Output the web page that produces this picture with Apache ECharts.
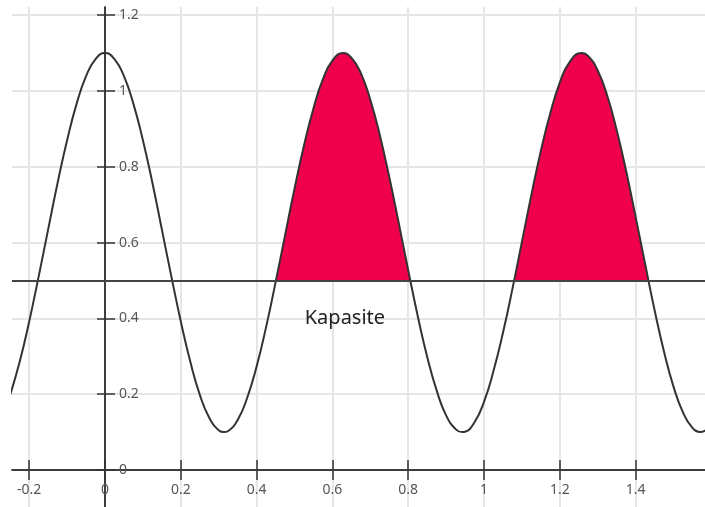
<!DOCTYPE html>
<html>
<head>
<meta charset="utf-8">
<script src="https://cdn.jsdelivr.net/npm/echarts@6/dist/echarts.min.js"></script>
<style>
  html, body { margin: 0; padding: 0; background: #fff; }
  #main { width: 705px; height: 507px; }
</style>
</head>
<body>
<div id="main"></div>
<script>
// curve (x step 0.025, plus the peaks and troughs)
let curveX = [-0.25, -0.225, -0.2, -0.175, -0.15, -0.125, -0.1, -0.075, -0.05, -0.025,
  0, 0.025, 0.05, 0.075, 0.1, 0.125, 0.15, 0.175, 0.2, 0.225,
  0.25, 0.275, 0.3, 0.314, 0.325, 0.35, 0.375, 0.4, 0.425, 0.45, 0.475,
  0.5, 0.525, 0.55, 0.575, 0.6, 0.628, 0.65, 0.675, 0.7, 0.725,
  0.75, 0.775, 0.8, 0.825, 0.85, 0.875, 0.9, 0.925, 0.942, 0.95, 0.975,
  1, 1.025, 1.05, 1.075, 1.1, 1.125, 1.15, 1.175, 1.2, 1.225,
  1.257, 1.275, 1.3, 1.325, 1.35, 1.375, 1.4, 1.425, 1.45, 1.475,
  1.5, 1.525, 1.55, 1.571, 1.6];
let curveY = [0.199, 0.286, 0.392, 0.511, 0.635, 0.758, 0.870, 0.966, 1.039, 1.084,
  1.100, 1.084, 1.039, 0.966, 0.870, 0.758, 0.635, 0.511, 0.392, 0.286,
  0.199, 0.138, 0.105, 0.100, 0.103, 0.132, 0.190, 0.273, 0.377, 0.495, 0.619,
  0.742, 0.856, 0.954, 1.031, 1.080, 1.100, 1.088, 1.047, 0.977, 0.884,
  0.773, 0.652, 0.527, 0.407, 0.299, 0.210, 0.144, 0.108, 0.100, 0.101, 0.126,
  0.180, 0.261, 0.362, 0.478, 0.602, 0.726, 0.842, 0.942, 1.022, 1.075,
  1.100, 1.092, 1.054, 0.988, 0.897, 0.789, 0.668, 0.544, 0.422, 0.312,
  0.220, 0.152, 0.111, 0.100, 0.121];

let capacity = 0.5;
// where the curve crosses the capacity line around the two shaded humps
let humpA = [0.451, 0.805];
let humpB = [1.079, 1.434];

let xRange = [-0.2454, 1.5831];
let yRange = [-0.0976, 1.2216];
let xLabels = [-0.2, 0, 0.2, 0.4, 0.6, 0.8, 1, 1.2, 1.4];
let yLabels = [0, 0.2, 0.4, 0.6, 0.8, 1, 1.2];

let curveData = curveX.map((x, i) => [x, curveY[i]]);

function humpData(range) {
  let pts = curveData.filter(p => p[0] > range[0] && p[0] < range[1]);
  return [[range[0], capacity]].concat(pts, [[range[1], capacity]]);
}

var chart = echarts.init(document.getElementById('main'), null, { renderer: 'canvas' });

let axisColor = '#333';
let gridColor = '#e6e6e6';
let W = 705, H = 507;
let gridBox = { left: 12, right: 0, top: 7, bottom: 0 };

// pixel where the value 0 of the other axis sits, so the axes cross at (0, 0)
let zeroX = gridBox.left + (0 - xRange[0]) / (xRange[1] - xRange[0]) * (W - gridBox.left - gridBox.right);
let zeroY = gridBox.top + (yRange[1] - 0) / (yRange[1] - yRange[0]) * (H - gridBox.top - gridBox.bottom);

function axisPair(dim, range, values) {
  let isX = dim == 'x';
  let main = {
    type: 'value', min: range[0], max: range[1],
    position: isX ? 'bottom' : 'left',
    offset: isX ? -(H - gridBox.bottom - zeroY) : -(zeroX - gridBox.left),
    axisLine: { onZero: false, lineStyle: { color: axisColor, width: 1.5 } },
    axisTick: { show: true, customValues: values, length: isX ? 10 : 8, lineStyle: { color: axisColor, width: 1.5 } },
    axisLabel: {
      show: true, customValues: values, inside: !isX, margin: isX ? 13 : 14,
      color: '#555', fontSize: 14, fontFamily: 'Noto Sans'
    },
    splitLine: { show: true, lineStyle: { color: gridColor, width: 2 } }
  };
  // second copy only gives the ticks on the other side of the axis line
  let other = {
    type: 'value', min: range[0], max: range[1],
    position: isX ? 'top' : 'right',
    offset: isX ? -(zeroY - gridBox.top) : -(W - gridBox.right - zeroX),
    axisLine: { onZero: false, lineStyle: { color: axisColor, width: 1.5 } },
    axisTick: { show: true, customValues: values, length: 10, lineStyle: { color: axisColor, width: 1.5 } },
    axisLabel: { show: false },
    splitLine: { show: false }
  };
  return [main, other];
}

let fillSeries = [humpA, humpB].map(r => ({
  type: 'line',
  data: humpData(r),
  smooth: 0.5,
  symbol: 'none',
  lineStyle: { width: 0 },
  areaStyle: { color: '#f0004c', opacity: 1, origin: capacity },
  z: 2,
  silent: true
}));

var option = {
  animation: false,
  backgroundColor: '#ffffff',
  grid: Object.assign({ containLabel: false }, gridBox),
  xAxis: axisPair('x', xRange, xLabels),
  yAxis: axisPair('y', yRange, yLabels),
  series: fillSeries.concat([{
    type: 'line',
    data: curveData,
    smooth: 0.5,
    symbol: 'none',
    lineStyle: { color: '#333', width: 2 },
    z: 3,
    markLine: {
      silent: true,
      symbol: 'none',
      label: { show: false },
      lineStyle: { color: '#444', width: 2, type: 'solid' },
      data: [{ yAxis: capacity }]
    },
    markPoint: {
      silent: true,
      symbol: 'rect',
      symbolSize: 1,
      itemStyle: { color: 'rgba(0,0,0,0)' },
      label: { show: true, position: 'inside', formatter: 'Kapasite', color: '#222', fontSize: 20, fontFamily: 'Noto Sans' },
      data: [{ coord: [0.633, 0.401] }]
    }
  }])
};

chart.setOption(option);
</script>
</body>
</html>
